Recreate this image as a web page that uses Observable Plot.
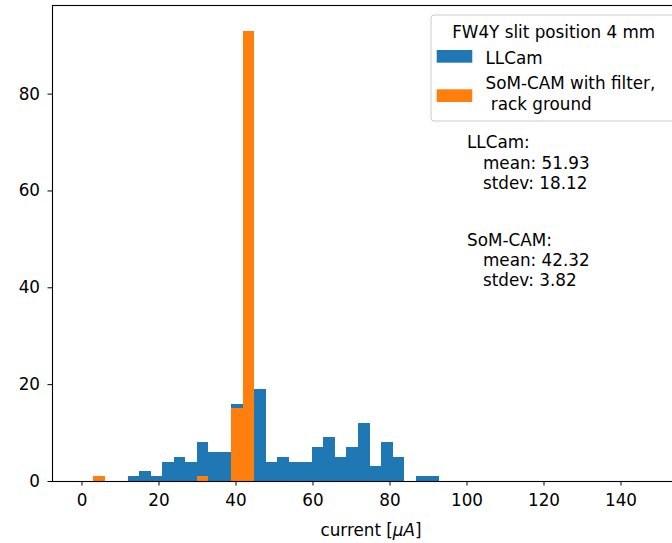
<!DOCTYPE html>
<html><head><meta charset="utf-8">
<script src="https://cdn.jsdelivr.net/npm/d3@7"></script>
<script src="https://cdn.jsdelivr.net/npm/@observablehq/plot@0.6"></script>
<style>
html,body{margin:0;padding:0;background:#fff;overflow:hidden}
#wrap{width:672px;height:543px;overflow:hidden}
#wrap svg{max-width:none !important;width:690px;height:543px}
svg text{white-space:pre}
</style></head><body><div id="wrap"></div>
<script>
// Bin edges (µA) shared by both histograms
const binEdges = [3.05, 6.04, 9.03, 12.02, 15.01, 18.00, 20.99, 23.98, 26.97, 29.96, 32.95,
  35.94, 38.93, 41.92, 44.91, 47.90, 50.89, 53.88, 56.87, 59.86, 62.85, 65.84, 68.83,
  71.82, 74.81, 77.80, 80.79, 83.78, 86.77, 89.76, 92.75];
// Counts per bin
const llcamCounts = [0, 0, 0, 1, 2, 1, 4, 5, 4, 8, 6, 6, 16, 7, 19, 4, 5, 4, 4, 7, 9, 5, 7, 12, 3, 8, 5, 0, 1, 1];
const somcamCounts = [1, 0, 0, 0, 0, 0, 0, 0, 0, 1, 0, 0, 15, 93];
const seriesNames = ["LLCam", "SoM-CAM with filter,\n rack ground"];
const seriesColors = ["#1f77b4", "#ff7f0e"];
const legendTitle = "FW4Y slit position 4 mm";
const xTicks = [0, 20, 40, 60, 80, 100, 120, 140];
const yTicks = [0, 20, 40, 60, 80];
const statNames = ["LLCam:", "SoM-CAM:"];
const statMeans = [51.93, 42.32];
const statStdevs = [18.12, 3.82];

const toBins = counts => counts.map((c, i) => ({x1: binEdges[i], x2: binEdges[i + 1], y: c})).filter(d => d.y > 0);
const llBins = toBins(llcamCounts);
const somBins = toBins(somcamCounts);
const stats = [
  {x: 100, y: 60.4, text: `${statNames[0]}\n   mean: ${statMeans[0].toFixed(2)}\n   stdev: ${statStdevs[0].toFixed(2)}`},
  {x: 100, y: 40.3, text: `${statNames[1]}\n   mean: ${statMeans[1].toFixed(2)}\n   stdev: ${statStdevs[1].toFixed(2)}`}
];

const fs = 16.8;
const W = 690, H = 543, ML = 52, MR = 0, MT = 5, MB = 62;
const chart = Plot.plot({
  width: W, height: H,
  marginLeft: ML, marginRight: MR, marginTop: MT, marginBottom: MB,
  style: {fontFamily: "DejaVu Sans", fontSize: fs + "px", color: "black", background: "white", maxWidth: "none"},
  x: {domain: [-7.66, 158.05], ticks: xTicks, tickSize: 4.5, tickPadding: 8.5, label: null, tickFormat: d => String(d)},
  y: {domain: [0, 98.3], ticks: yTicks, tickSize: 4.5, tickPadding: 8, label: null, tickFormat: d => String(d)},
  marks: [
    Plot.rectY(llBins, {x1: "x1", x2: "x2", y: "y", fill: seriesColors[0], inset: 0, shapeRendering: "crispEdges"}),
    Plot.rectY(somBins, {x1: "x1", x2: "x2", y: "y", fill: seriesColors[1], inset: 0, shapeRendering: "crispEdges"}),
    Plot.text(stats, {x: "x", y: "y", text: "text", textAnchor: "start", lineAnchor: "bottom", lineHeight: 1.21, fontSize: fs, fill: "black"}),
    Plot.frame({stroke: "black", strokeWidth: 1.1})
  ]
});
document.getElementById("wrap").appendChild(chart);

const svg = d3.select(chart);
// x-axis label with italic µA
const xl = svg.append("text")
  .attr("x", (ML + W - MR) / 2).attr("y", 535.5)
  .attr("text-anchor", "middle")
  .attr("font-family", "DejaVu Sans").attr("font-size", fs).attr("fill", "black");
xl.append("tspan").text("current [");
xl.append("tspan").attr("font-style", "italic").text("\u03bcA");
xl.append("tspan").text("]");

// Legend
const g = svg.append("g").attr("font-family", "DejaVu Sans").attr("font-size", fs)
  .attr("fill", "black").attr("text-anchor", "start");
g.append("rect").attr("x", 431).attr("y", 15).attr("width", 246).attr("height", 106).attr("rx", 3)
  .attr("fill", "white").attr("fill-opacity", 0.8).attr("stroke", "#cccccc").attr("stroke-width", 1);
g.append("text").attr("x", 553.7).attr("y", 37.5).attr("text-anchor", "middle").text(legendTitle);
const swY = [50, 89.3];
const txY = [[63.5], [88.5, 110]];
seriesNames.forEach((name, i) => {
  g.append("rect").attr("x", 436.7).attr("y", swY[i]).attr("width", 35.6).attr("height", 12.7).attr("fill", seriesColors[i]);
  name.split("\n").forEach((line, j) => {
    g.append("text").attr("x", 485.5).attr("y", txY[i][j]).attr("text-anchor", "start").text(line);
  });
});
</script></body></html>
